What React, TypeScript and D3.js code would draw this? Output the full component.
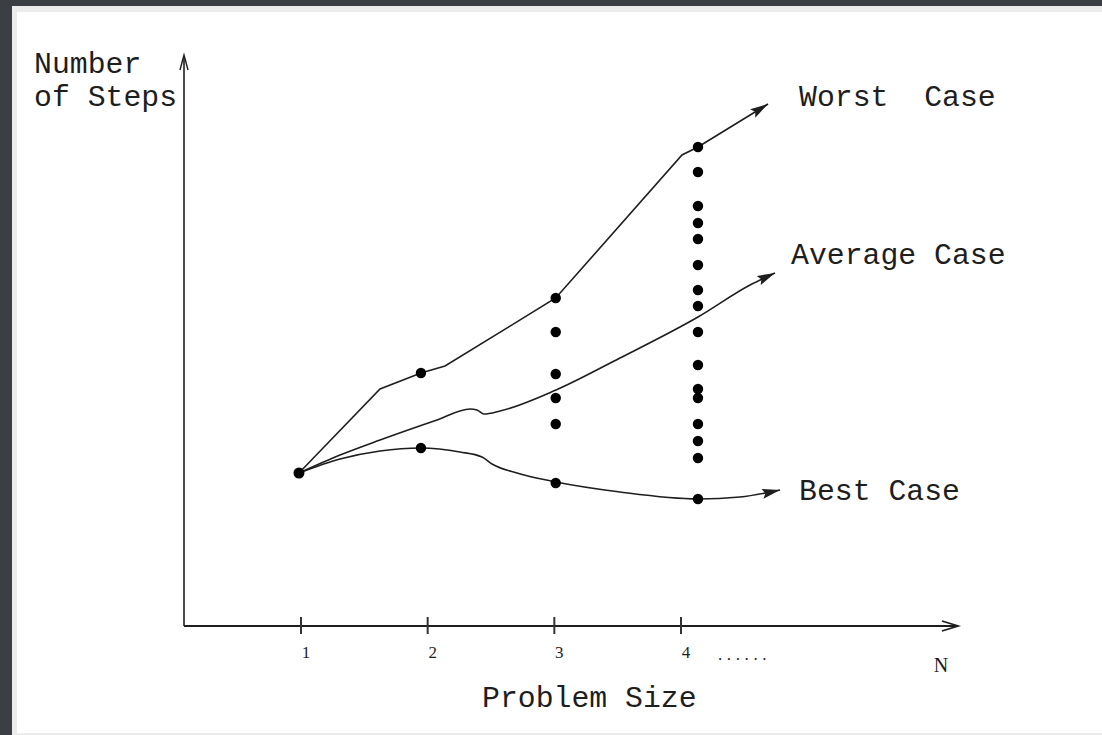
import React from "react";
import * as d3 from "d3";

// ---- data (problem size n, number of steps) ----
const tickValues = [1, 2, 3, 4];
const tickLabels = ["1", "2", "3", "4"];

const worstN = [0.984, 1.624, 1.947, 2.137, 3.011, 4.008, 4.134, 4.687];
const worstSteps = [153, 237, 253, 260, 328, 471, 479, 522];

const averageN = [0.984, 1.308, 1.624, 2.074, 2.334, 2.389, 2.445, 2.571, 3.013, 3.518, 4.134, 4.545, 4.742];
const averageSteps = [153, 171, 186, 206, 217, 216, 212, 215, 236, 268, 309, 341, 353];

const bestN = [0.984, 1.308, 1.624, 1.947, 2.255, 2.429, 2.508, 2.705, 3.013, 3.518, 4.134, 4.466, 4.782];
const bestSteps = [153, 167, 175, 178, 174, 169, 162, 153, 144, 134, 127, 129, 136];

const columnN = [0.984, 1.947, 3.011, 4.134];
const columnSteps = [
  [153],
  [253, 178],
  [328, 294, 252, 228, 202, 143],
  [479, 454, 420, 403, 387, 361, 336, 320, 294, 261, 237, 228, 202, 185, 168, 127],
];

const seriesLabels = ["Worst  Case", "Average Case", "Best Case"];

// ---- layout ----
const W = 1102;
const H = 735;
const axisX = 184;
const axisY = 626;
const axisTop = 55;
const axisRight = 958;
const ink = "#1e1e1e";
const mono = "'Liberation Mono', 'DejaVu Sans Mono', monospace";
const serif = "'Liberation Serif', 'DejaVu Serif', serif";

export default function App() {
  const x = d3.scaleLinear().domain([1, 4]).range([301, 681]);
  const y = d3.scaleLinear().domain([0, 570]).range([626, 56]);

  const zip = (ns: number[], ss: number[]) => ns.map((n, i) => [n, ss[i]] as [number, number]);

  const linearLine = d3
    .line<[number, number]>()
    .x((d) => x(d[0]))
    .y((d) => y(d[1]));
  const smoothLine = d3
    .line<[number, number]>()
    .x((d) => x(d[0]))
    .y((d) => y(d[1]))
    .curve(d3.curveMonotoneX);

  const worstPath = linearLine(zip(worstN, worstSteps)) || "";
  const averagePath = smoothLine(zip(averageN, averageSteps)) || "";
  const bestPath = smoothLine(zip(bestN, bestSteps)) || "";

  return (
    <svg
      width={W}
      height={H}
      viewBox={`0 0 ${W} ${H}`}
      style={{ position: "absolute", left: 0, top: 0, display: "block" }}
    >
      <defs>
        <marker
          id="head"
          markerUnits="userSpaceOnUse"
          markerWidth={20}
          markerHeight={12}
          refX={18}
          refY={5}
          orient="auto"
        >
          <path d="M0,0 L18,5 L0,10 L3,5 z" fill={ink} />
        </marker>
      </defs>

      {/* frame */}
      <rect x={0} y={0} width={W} height={H} fill="#3b3e43" />
      <rect x={12} y={6} width={W - 12} height={H - 6} fill="#ececec" />
      <rect x={17} y={12} width={W - 17} height={733 - 12} fill="#ffffff" />

      {/* axes */}
      <line x1={axisX} y1={axisY} x2={axisX} y2={axisTop + 1} stroke={ink} strokeWidth={1.6} />
      <path
        d={`M${axisX - 4},${axisTop + 15} L${axisX},${axisTop} L${axisX + 4},${axisTop + 15}`}
        fill="none"
        stroke={ink}
        strokeWidth={1.4}
      />
      <line x1={axisX} y1={axisY} x2={axisRight - 1} y2={axisY} stroke={ink} strokeWidth={1.8} />
      <path
        d={`M${axisRight - 16},${axisY - 5} L${axisRight},${axisY} L${axisRight - 16},${axisY + 5}`}
        fill="none"
        stroke={ink}
        strokeWidth={1.8}
      />

      {/* ticks */}
      {tickValues.map((t, i) => (
        <g key={t}>
          <line x1={x(t)} y1={617} x2={x(t)} y2={634} stroke="#333" strokeWidth={2} />
          <text
            x={x(t) + 5}
            y={658}
            textAnchor="middle"
            fontFamily={serif}
            fontSize={17}
            fill={ink}
          >
            {tickLabels[i]}
          </text>
        </g>
      ))}
      <text x={718} y={660} fontFamily={serif} fontSize={17} fill={ink} letterSpacing={4.6}>
        ......
      </text>
      <text x={941} y={672} textAnchor="middle" fontFamily={serif} fontSize={20} fill={ink}>
        N
      </text>

      {/* axis titles */}
      <text x={482} y={707} fontFamily={mono} fontSize={29.8} fill={ink}>
        Problem Size
      </text>
      <text x={34} y={73} fontFamily={mono} fontSize={29.8} fill={ink}>
        Number
      </text>
      <text x={34} y={106} fontFamily={mono} fontSize={29.8} fill={ink}>
        of Steps
      </text>

      {/* curves */}
      <path d={worstPath} fill="none" stroke={ink} strokeWidth={1.6} markerEnd="url(#head)" />
      <path d={averagePath} fill="none" stroke={ink} strokeWidth={1.6} markerEnd="url(#head)" />
      <path d={bestPath} fill="none" stroke={ink} strokeWidth={1.6} markerEnd="url(#head)" />

      {/* dots */}
      {columnSteps.map((col, ci) =>
        col.map((s, j) => (
          <circle key={`${ci}-${j}`} cx={x(columnN[ci])} cy={y(s)} r={ci === 0 ? 5.5 : 5.2} fill="#000" />
        ))
      )}

      {/* series labels */}
      <text x={799} y={106} fontFamily={mono} fontSize={29.8} fill={ink} style={{ whiteSpace: "pre" }}>
        {seriesLabels[0]}
      </text>
      <text x={791} y={264} fontFamily={mono} fontSize={29.8} fill={ink}>
        {seriesLabels[1]}
      </text>
      <text x={799} y={500} fontFamily={mono} fontSize={29.8} fill={ink}>
        {seriesLabels[2]}
      </text>
    </svg>
  );
}
